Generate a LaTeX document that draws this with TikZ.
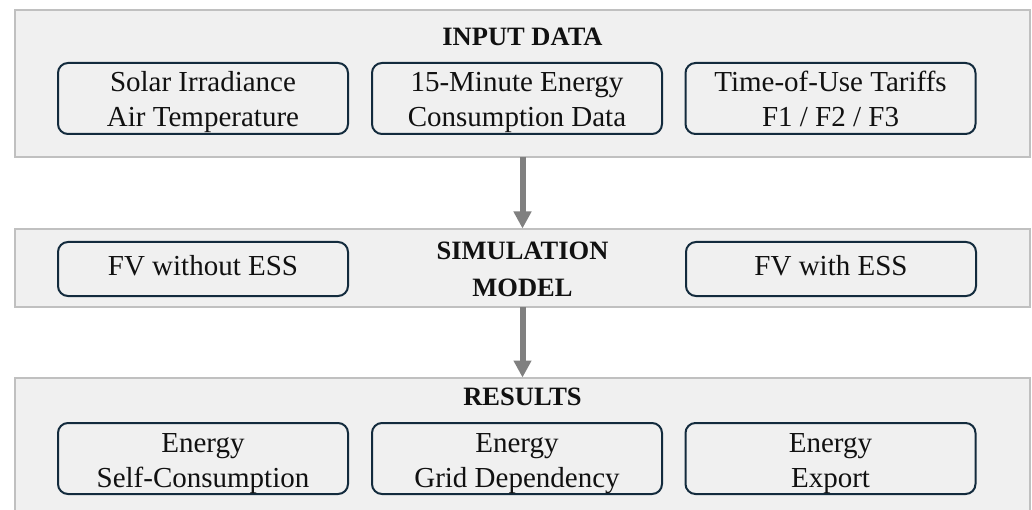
\documentclass[tikz,border=0pt]{standalone}
\usepackage{fontspec}
\setmainfont{Liberation Serif}
\usetikzlibrary{arrows.meta}

\definecolor{panelfill}{HTML}{F0F0F0}
\definecolor{paneledge}{HTML}{C0C0C0}
\definecolor{cardedge}{HTML}{132B3D}
\definecolor{flowgray}{HTML}{808080}
\definecolor{ink}{HTML}{111111}

\tikzset{
  panel/.style={draw=paneledge, fill=panelfill, line width=2.5pt,
    minimum width=1015pt, inner sep=0pt, outer sep=0pt},
  card/.style={draw=cardedge, line width=2pt, rounded corners=10pt,
    minimum width=290pt, inner sep=0pt, outer sep=0pt},
  cardtxt/.style={align=center, text=ink, inner sep=0pt, anchor=base,
    font=\fontsize{29}{35}\selectfont},
  title/.style={align=center, text=ink, inner sep=0pt, anchor=base,
    font=\fontsize{26.5}{36}\selectfont\bfseries},
  flow/.style={draw=flowgray, line width=6pt,
    -{Triangle[width=17pt,length=17pt]}, shorten >=0.5pt}
}

\begin{document}
\begin{tikzpicture}[x=1pt,y=-1pt]
  \useasboundingbox (0,0) rectangle (1032,510);
  \clip (0,0) rectangle (1032,510);

  % three stacked panels
  \node[panel, minimum height=147pt] (inp) at (522.5,83.5) {};
  \node[panel, minimum height=78pt]  (sim) at (522.5,268) {};
  \node[panel, minimum height=180pt] (res) at (522.5,468) {};

  % flow between panels
  \draw[flow] (inp.south) -- (sim.north);
  \draw[flow] (sim.south) -- (res.north);

  % input data (multi-line text is placed by its last baseline)
  \node[title] (inpT) at (522.5,46) {INPUT DATA};
  \node[card, minimum height=71pt] (in1) at (203,98.5) {};
  \node[card, minimum height=71pt] (in2) at (517,98.5) {};
  \node[card, minimum height=71pt] (in3) at (830.5,98.5) {};
  \node[cardtxt] (in1t) at (203,127) {Solar Irradiance\\Air Temperature};
  \node[cardtxt] (in2t) at (517,127) {15-Minute Energy\\Consumption Data};
  \node[cardtxt] (in3t) at (830.5,127) {Time-of-Use Tariffs\\F1 / F2 / F3};

  % simulation model
  \node[title] (simT) at (522.5,296) {SIMULATION\\MODEL};
  \node[card, minimum height=54pt] (sm1) at (203,269) {};
  \node[card, minimum height=54pt] (sm2) at (831,269) {};
  \node[cardtxt] (sm1t) at (203,276) {FV without ESS};
  \node[cardtxt] (sm2t) at (831,276) {FV with ESS};

  % results
  \node[title] (resT) at (522.5,405) {RESULTS};
  \node[card, minimum height=71pt] (rs1) at (203,458.5) {};
  \node[card, minimum height=71pt] (rs2) at (517,458.5) {};
  \node[card, minimum height=71pt] (rs3) at (830.5,458.5) {};
  \node[cardtxt] (rs1t) at (203,487) {Energy\\Self-Consumption};
  \node[cardtxt] (rs2t) at (517,487) {Energy\\Grid Dependency};
  \node[cardtxt] (rs3t) at (830.5,487) {Energy\\Export};
\end{tikzpicture}
\end{document}
